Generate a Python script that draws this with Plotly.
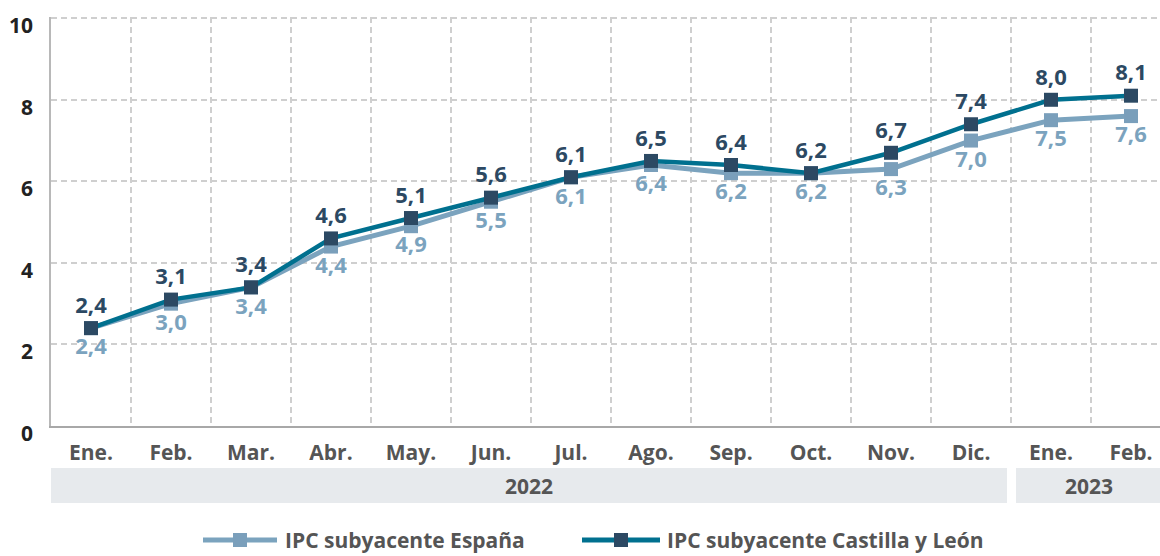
import plotly.graph_objects as go

months = ["Ene.", "Feb.", "Mar.", "Abr.", "May.", "Jun.", "Jul.", "Ago.", "Sep.", "Oct.", "Nov.", "Dic.", "Ene.", "Feb."]
years = ["2022", "2023"]
espana = [2.4, 3.0, 3.4, 4.4, 4.9, 5.5, 6.1, 6.4, 6.2, 6.2, 6.3, 7.0, 7.5, 7.6]
cyl = [2.4, 3.1, 3.4, 4.6, 5.1, 5.6, 6.1, 6.5, 6.4, 6.2, 6.7, 7.4, 8.0, 8.1]
series_names = ["IPC subyacente España", "IPC subyacente Castilla y León"]
y_ticks = [0, 2, 4, 6, 8, 10]

FONT = "Open Sans"
C_ESP_LINE = "#7ba3be"
C_ESP_MARK = "#7a9fbb"
C_CYL_LINE = "#00708f"
C_CYL_MARK = "#2c4963"
C_TEXT = "#555555"
GRID_DASH = "6px,4px"

x = list(range(len(months)))

def fmt(v):
    return f"{v:.1f}".replace(".", ",")

fig = go.Figure()
fig.add_trace(go.Scatter(
    x=x, y=espana, mode="lines+markers+text",
    line=dict(color=C_ESP_LINE, width=5),
    marker=dict(symbol="square", size=14, color=C_ESP_MARK),
    text=[fmt(v) for v in espana], textposition="bottom center",
    textfont=dict(family=FONT, size=22, color=C_ESP_LINE, weight="bold"),
    cliponaxis=False, showlegend=False, name=series_names[0]))
fig.add_trace(go.Scatter(
    x=x, y=cyl, mode="lines+markers+text",
    line=dict(color=C_CYL_LINE, width=4.5),
    marker=dict(symbol="square", size=14, color=C_CYL_MARK),
    text=[fmt(v) for v in cyl], textposition="top center",
    textfont=dict(family=FONT, size=22, color=C_CYL_MARK, weight="bold"),
    cliponaxis=False, showlegend=False, name=series_names[1]))

W, H = 1160, 556
L, R, T, B = 51, 0, 17, 130
ph = H - T - B

def py(p):
    return (H - B - p) / ph

x_right = (1160 - 91) / 80.0

fig.update_layout(
    width=W, height=H,
    margin=dict(l=L, r=R, t=T, b=B),
    plot_bgcolor="white", paper_bgcolor="white",
    font=dict(family=FONT),
    xaxis=dict(
        range=[-0.5, x_right], tickvals=x, ticktext=months,
        showgrid=False, zeroline=False,
        showline=True, linecolor="#a8a8a8", linewidth=2,
        tickfont=dict(family=FONT, size=21, color=C_TEXT, weight="bold"),
        ticks="", ticklabelstandoff=7,
        minor=dict(tickvals=[i + 0.5 for i in range(13)], showgrid=True,
                   gridcolor="#cfcfcf", griddash=GRID_DASH, gridwidth=1.5),
    ),
    yaxis=dict(
        range=[0, 10.03], tickvals=y_ticks, showticklabels=False,
        showgrid=True, gridcolor="#cfcfcf", griddash=GRID_DASH, gridwidth=1.5,
        zeroline=False, showline=True, linecolor="#b8b8b8", linewidth=2,
        ticks="",
    ),
)

# year bands
shapes = [
    dict(type="rect", xref="x", yref="paper", x0=-0.5, x1=(1007 - 91) / 80,
         y0=py(503), y1=py(468), fillcolor="#e7eaed", line=dict(width=0), layer="below"),
    dict(type="rect", xref="x", yref="paper", x0=(1016 - 91) / 80, x1=x_right,
         y0=py(503), y1=py(468), fillcolor="#e7eaed", line=dict(width=0), layer="below"),
]
annotations = [
    dict(text=years[0], xref="x", yref="paper", x=(529 - 91) / 80, y=py(485.5),
         yanchor="middle", showarrow=False,
         font=dict(family=FONT, size=21, color=C_TEXT, weight="bold")),
    dict(text=years[1], xref="x", yref="paper", x=(1089 - 91) / 80, y=py(485.5),
         yanchor="middle", showarrow=False,
         font=dict(family=FONT, size=21, color=C_TEXT, weight="bold")),
]

# y tick labels (shifted slightly below their gridlines, as in the reference)
for v in y_ticks:
    annotations.append(dict(text=str(v), xref="paper", yref="y", x=0, y=v,
                            xanchor="right", yanchor="middle", xshift=-16, yshift=-7,
                            showarrow=False,
                            font=dict(family=FONT, size=21, color="#222222", weight="bold")))

# custom legend
def px_x(p):
    return (p - L) / (W - L - R)

legend_items = [
    (203, 277, 240, 283, C_ESP_LINE, C_ESP_MARK, series_names[0]),
    (582, 660, 621, 665, C_CYL_LINE, C_CYL_MARK, series_names[1]),
]
ly = 540
for x0, x1, xm, xt, lc, mc, name in legend_items:
    shapes.append(dict(type="line", xref="paper", yref="paper",
                       x0=px_x(x0), x1=px_x(x1), y0=py(ly), y1=py(ly),
                       line=dict(color=lc, width=5)))
    shapes.append(dict(type="rect", xref="paper", yref="paper",
                       x0=px_x(xm - 7), x1=px_x(xm + 7), y0=py(ly + 7), y1=py(ly - 7),
                       fillcolor=mc, line=dict(width=0)))
    annotations.append(dict(text=name, xref="paper", yref="paper",
                            x=px_x(xt), y=py(ly), xanchor="left", yanchor="middle",
                            showarrow=False,
                            font=dict(family=FONT, size=21, color=C_TEXT, weight="bold")))

fig.update_layout(shapes=shapes, annotations=annotations)
fig.write_html("out.html", config={"displayModeBar": False},
               post_script="document.body.style.margin='0px';document.body.style.overflow='hidden';")
